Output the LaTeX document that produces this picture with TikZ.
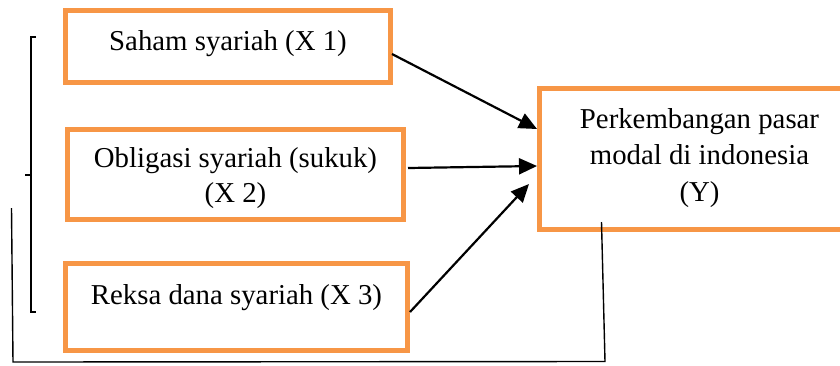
\documentclass[tikz,border=0pt]{standalone}
\usepackage{fontspec}
\setmainfont{Liberation Serif}
\usetikzlibrary{arrows.meta}
\definecolor{boxorange}{HTML}{F79646}
\begin{document}
\begin{tikzpicture}[x=0.5pt,y=-0.5pt,
  box/.style={draw=boxorange, line width=2.5pt, rectangle, inner sep=0pt},
  lbl/.style={font=\fontsize{14.4}{17.5}\selectfont, align=center, inner sep=0pt},
  arr/.style={line width=1.1pt, -{Triangle[length=9pt,width=8pt]}},
  thin/.style={line width=0.7pt}]
\useasboundingbox (0,0) rectangle (840,365);
\clip (0,0) rectangle (840,365);
% boxes
\node[box, minimum width=162.5pt, minimum height=36pt] (x1) at (228,46.5) {};
\node[box, minimum width=168pt, minimum height=45pt] (x2) at (235.5,174.5) {};
\node[box, minimum width=171pt, minimum height=43.5pt] (x3) at (236.5,307) {};
\node[box, minimum width=160pt, minimum height=70.5pt] (y) at (699.5,159) {};
% labels
\node[lbl] (x1t) at (228,44) {Saham syariah (X 1)};
\node[lbl] (x2t) at (235.5,178) {Obligasi syariah (sukuk)\\(X 2)};
\node[lbl] (x3t) at (236.5,298) {Reksa dana syariah (X 3)};
\node[lbl, font=\fontsize{14.4}{18.4}\selectfont] (yt) at (699.5,158) {Perkembangan pasar\\modal di indonesia\\(Y)};
% arrows
\coordinate (a1s) at (392,54);
\coordinate (a1e) at (537,129);
\coordinate (a2s) at (408,168);
\coordinate (a2e) at (537,166);
\coordinate (a3s) at (410,312);
\coordinate (a3e) at (529,184);
\draw[arr] (a1s) -- (a1e);
\draw[arr] (a2s) -- (a2e);
\draw[arr] (a3s) -- (a3e);
% bracket
\coordinate (bt) at (31,37);
\coordinate (bb) at (31,312);
\coordinate (bm) at (31,175);
\coordinate (bmt) at (25,175);
\draw[thin] ([xshift=2.5pt]bt) -- (bt) -- (bb) -- ([xshift=2.5pt]bb);
\draw[thin] (bmt) -- (bm);
% return line
\coordinate (r1) at (11.5,208);
\coordinate (r2) at (13,362);
\coordinate (r3) at (605,361.5);
\coordinate (r4) at (601.5,222);
\draw[thin] (r1) -- (r2) -- (r3) -- (r4);
\end{tikzpicture}
\end{document}
